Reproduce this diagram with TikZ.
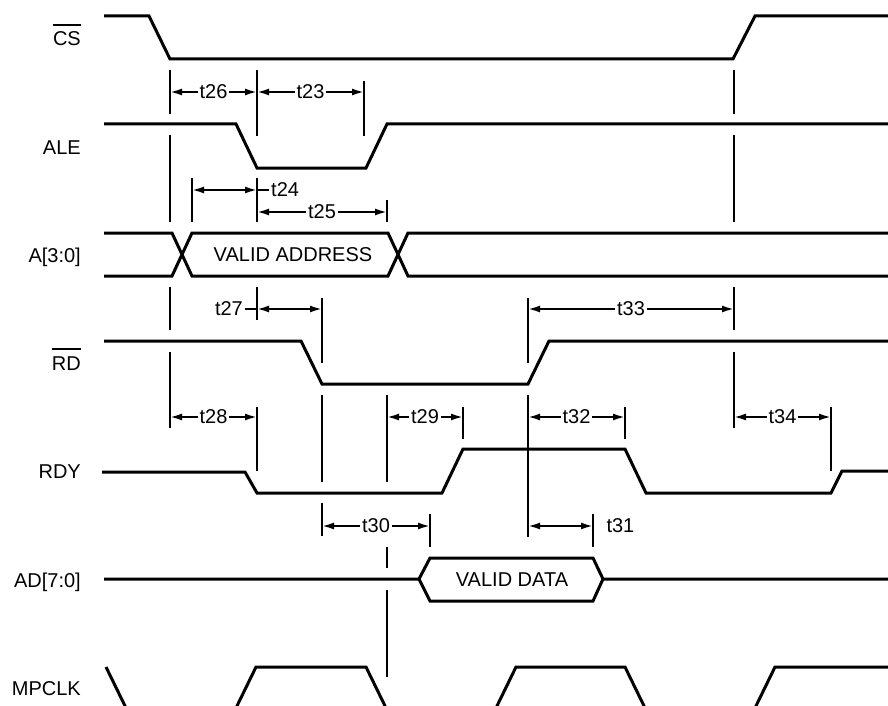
\documentclass[tikz,border=0pt]{standalone}
\usepackage{fontspec}
\setmainfont{Liberation Sans}
\usetikzlibrary{arrows.meta}

\newcommand{\ovbar}[1]{\vbox{\hrule height 2pt\kern 6pt\hbox{#1}}}

\begin{document}
\begin{tikzpicture}[
  x=1pt, y=-1pt,
  font=\fontsize{20}{24}\selectfont,
  sig/.style={line width=3pt},
  tick/.style={line width=2pt},
  dim/.style={{Latex[length=12pt,width=7pt]}-{Latex[length=12pt,width=7pt]}, line width=2pt},
  tlbl/.style={fill=white, inner sep=2pt},
  sname/.style={anchor=base east, inner sep=0pt}
  ]

\clip (0,0) rectangle (888,706);

% signal names
\node [sname] (lcs) at (81,46) {\ovbar{CS}};
\node [sname] (lale) at (81,154) {ALE};
\node [sname] (laddr) at (81,262) {A[3:0]};
\node [sname] (lrd) at (81,370) {\ovbar{RD}};
\node [sname] (lrdy) at (81,478) {RDY};
\node [sname] (lad) at (81,587) {AD[7:0]};
\node [sname] (lclk) at (81,695) {MPCLK};

% waveforms
\draw [sig] (104,16) -- (149,16) -- (170,59) -- (733,59) -- (755,16) -- (888,16);
\draw [sig] (104,124) -- (236,124) -- (257,168) -- (366,168) -- (387,124) -- (888,124);
\draw [sig] (104,233) -- (172,233) -- (192,276) -- (388,276) -- (408,233) -- (888,233);
\draw [sig] (104,276) -- (172,276) -- (192,233) -- (388,233) -- (408,276) -- (888,276);
\node (vaddr) at (293,255) {VALID ADDRESS};
\draw [sig] (104,341) -- (301,341) -- (322,384) -- (528,384) -- (549,341) -- (888,341);
\draw [sig] (102,472) -- (245,472) -- (257,493) -- (442,493) -- (463,449) -- (625,449)
  -- (646,493) -- (831,493) -- (842,471) -- (888,471);
\draw [sig] (104,579) -- (419,579) -- (430,558) -- (593,558) -- (603,579) -- (888,579);
\draw [sig] (419,579) -- (430,601) -- (593,601) -- (603,579);
\node (vdata) at (512,580) {VALID DATA};
\draw [sig] (106,667) -- (127,710) -- (235,710) -- (256,667) -- (366,667) -- (387,710)
  -- (495,710) -- (516,667) -- (625,667) -- (646,710) -- (754,710) -- (775,667) -- (888,667);

% reference lines
\draw [tick] (170,70) -- (170,114) (170,135) -- (170,222) (170,287) -- (170,330) (170,352) -- (170,428);
\draw [tick] (192,178) -- (192,222);
\draw [tick] (257,70) -- (257,136) (257,178) -- (257,222) (257,287) -- (257,320) (257,407) -- (257,471);
\draw [tick] (364,81) -- (364,136);
\draw [tick] (387,200) -- (387,222) (387,395) -- (387,482) (387,547) -- (387,568) (387,590) -- (387,677);
\draw [tick] (322,298) -- (322,363) (322,395) -- (322,482) (322,503) -- (322,536);
\draw [tick] (463,407) -- (463,439);
\draw [tick] (528,298) -- (528,363) (528,395) -- (528,537);
\draw [tick] (625,407) -- (625,439);
\draw [tick] (734,70) -- (734,114) (734,135) -- (734,222) (734,287) -- (734,330) (734,352) -- (734,428);
\draw [tick] (831,407) -- (831,471);
\draw [tick] (430,514) -- (430,547);
\draw [tick] (593,514) -- (593,547);

% timing parameters
\draw [dim] (170,92) -- node [tlbl] (t26) {t26} (257,92);
\draw [dim] (257,92) -- node [tlbl] (t23) {t23} (364,92);
\draw [dim] (192,190) -- (257,190);
\node [tlbl, anchor=west] (t24) at (269,190) {t24};
\draw [tick] (257,190) -- (t24.west);
\draw [dim] (257,212) -- node [tlbl] (t25) {t25} (387,212);
\draw [dim] (257,309) -- (322,309);
\node [tlbl, anchor=east] (t27) at (245,309) {t27};
\draw [tick] (t27.east) -- (257,309);
\draw [dim] (528,309) -- node [tlbl] (t33) {t33} (734,309);
\draw [dim] (170,417) -- node [tlbl] (t28) {t28} (257,417);
\draw [dim] (387,417) -- node [tlbl] (t29) {t29} (463,417);
\draw [dim] (528,417) -- node [tlbl] (t32) {t32} (625,417);
\draw [dim] (734,417) -- node [tlbl] (t34) {t34} (831,417);
\draw [dim] (322,526) -- node [tlbl] (t30) {t30} (430,526);
\draw [dim] (528,526) -- (593,526);
\node [anchor=west] (t31) at (603,526) {t31};

\end{tikzpicture}
\end{document}
